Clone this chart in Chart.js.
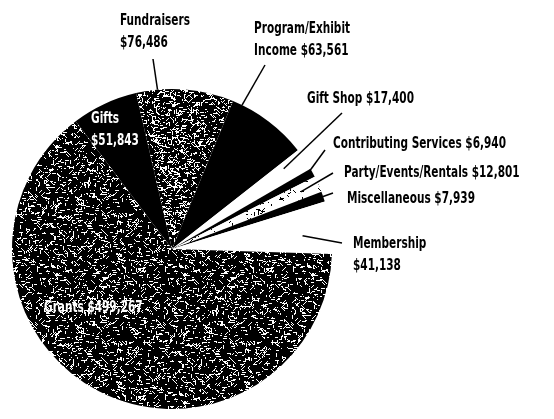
<!DOCTYPE html>
<html>
<head>
<meta charset="utf-8">
<script src="https://cdn.jsdelivr.net/npm/chart.js@4.4.1/dist/chart.umd.min.js"></script>
<style>
  html, body { margin: 0; padding: 0; background: #fff; }
  canvas { display: block; }
</style>
</head>
<body>
<canvas id="pie" width="554" height="419"></canvas>
<script>
const categories = ['Gifts', 'Fundraisers', 'Program/Exhibit Income', 'Gift Shop', 'Contributing Services',
                    'Party/Events/Rentals', 'Miscellaneous', 'Membership', 'Grants'];
const amounts = [51843, 76486, 63561, 17400, 6940, 12801, 7939, 41138, 499267];
const labelLines = [
  ['Gifts', '$51,843'],
  ['Fundraisers', '$76,486'],
  ['Program/Exhibit', 'Income $63,561'],
  ['Gift Shop $17,400'],
  ['Contributing Services $6,940'],
  ['Party/Events/Rentals $12,801'],
  ['Miscellaneous $7,939'],
  ['Membership', '$41,138'],
  ['Grants $499,267'],
];

// scanned halftone look: short 1px strokes on a tile
function texture(bg, fg, strokes, seed) {
  const size = 128;
  const c = document.createElement('canvas');
  c.width = c.height = size;
  const g = c.getContext('2d');
  g.fillStyle = bg;
  g.fillRect(0, 0, size, size);
  g.fillStyle = fg;
  let s = seed;
  const rnd = () => (s = (s * 16807) % 2147483647) / 2147483647;
  const dirs = [[1, 0], [1, 0], [1, 0], [0, 1], [1, 1], [1, -1]];
  for (let i = 0; i < strokes; i++) {
    let x = Math.floor(rnd() * size), y = Math.floor(rnd() * size);
    const d = dirs[Math.floor(rnd() * dirs.length)];
    const len = 1 + Math.floor(rnd() * 4);
    for (let k = 0; k < len; k++) {
      g.fillRect((x + size) % size, (y + size) % size, 1, 1);
      x += d[0]; y += d[1];
    }
  }
  return g.createPattern(c, 'repeat');
}

const ctx = document.getElementById('pie').getContext('2d');
const dark = texture('#000', '#fff', 1250, 7);
const mid = texture('#000', '#fff', 1900, 13);
const light = texture('#fff', '#000', 600, 29);

const fills = ['#000', mid, '#000', '#fff', '#000', light, '#000', '#fff', dark];

// label spot, leader start, and where on the slice it lands (t along the arc, f of the radius)
const callouts = [
  { x: 91, y: 112, color: '#fff' },
  { x: 120, y: 14, from: [153, 59], t: 0.22, f: 1.0 },
  { x: 254, y: 22, from: [265, 65], t: 0.12, f: 1.0 },
  { x: 307, y: 92, from: [342, 113], t: 0.3, f: 0.86 },
  { x: 333, y: 137, from: [325, 150], t: 0.5, f: 0.95 },
  { x: 344, y: 166, from: [333, 173], t: 0.5, f: 0.88 },
  { x: 347, y: 192, from: [333, 193], t: 0.5, f: 0.93 },
  { x: 353, y: 237, from: [342, 243], t: 0.6, f: 0.82 },
  { x: 44, y: 301, color: '#fff' },
];

const calloutPlugin = {
  id: 'callouts',
  afterDatasetsDraw(chart) {
    const c = chart.ctx;
    const arcs = chart.getDatasetMeta(0).data;
    c.save();
    c.font = "bold 15px 'DejaVu Sans Condensed', 'DejaVu Sans', sans-serif";
    c.textBaseline = 'top';
    callouts.forEach((o, i) => {
      const a = arcs[i];
      if (o.from) {
        const p = a.getProps(['x', 'y', 'startAngle', 'endAngle', 'outerRadius'], true);
        const m = p.startAngle + (p.endAngle - p.startAngle) * o.t;
        c.strokeStyle = '#000';
        c.lineWidth = 1.5;
        c.beginPath();
        c.moveTo(o.from[0], o.from[1]);
        c.lineTo(p.x + Math.cos(m) * p.outerRadius * o.f, p.y + Math.sin(m) * p.outerRadius * o.f);
        c.stroke();
      }
      c.fillStyle = o.color || '#000';
      // squeeze to the condensed face of the original
      labelLines[i].forEach((t, k) => c.fillText(t, o.x, o.y + k * 22, c.measureText(t).width * 0.78));
    });
    c.restore();
  },
};

new Chart(ctx, {
  type: 'pie',
  data: {
    labels: categories,
    datasets: [{
      data: amounts,
      backgroundColor: fills,
      borderWidth: 0,
    }],
  },
  options: {
    responsive: false,
    animation: false,
    rotation: -37,
    layout: { padding: { left: 12, right: 222, top: 89, bottom: 10 } },
    plugins: {
      legend: { display: false },
      tooltip: { enabled: false },
    },
  },
  plugins: [calloutPlugin],
});
</script>
</body>
</html>
